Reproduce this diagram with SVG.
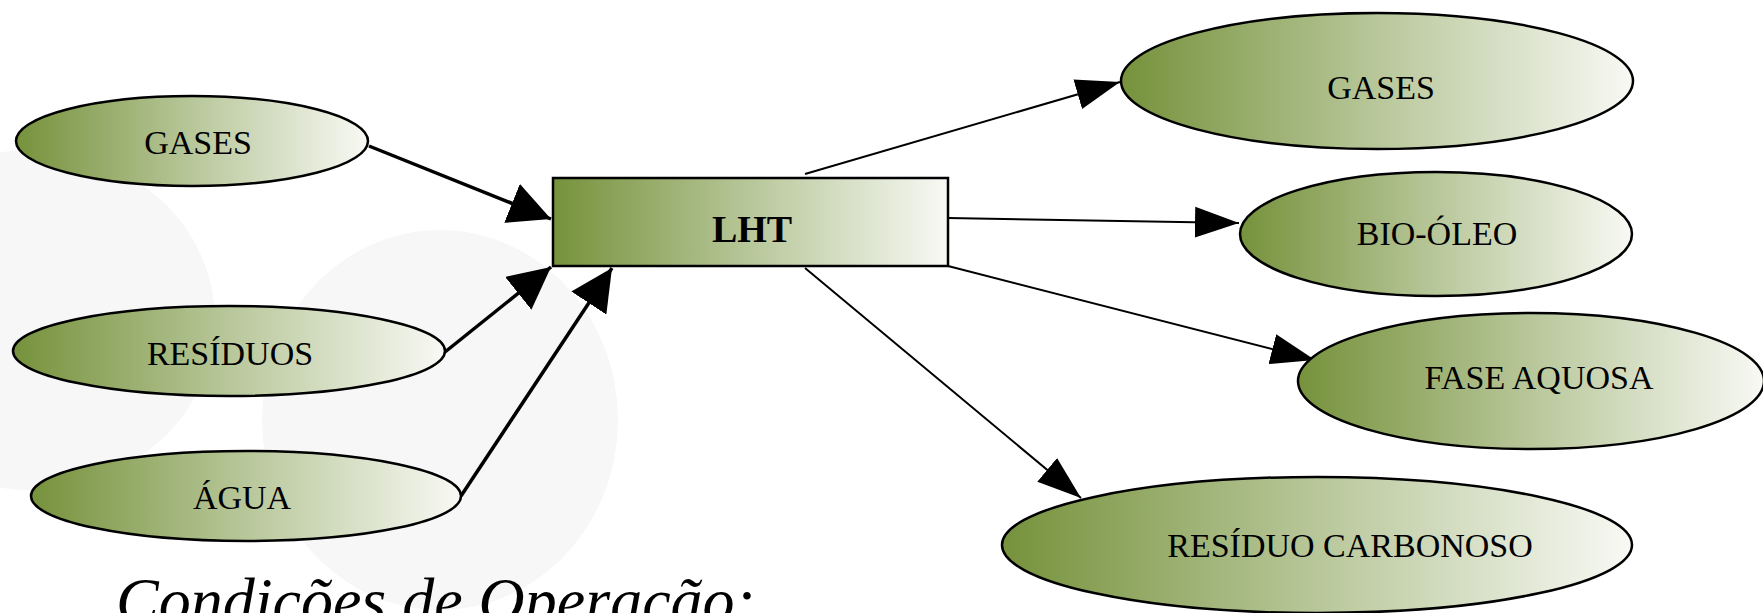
<svg xmlns="http://www.w3.org/2000/svg" width="1763" height="613" viewBox="0 0 1763 613">
<defs>
<linearGradient id="g" x1="0" y1="0" x2="1" y2="0">
<stop offset="0" stop-color="#76923c"/>
<stop offset="0.5" stop-color="#b8c79a"/>
<stop offset="1" stop-color="#f8f9f4"/>
</linearGradient>
<marker id="ahL" viewBox="0 0 10 10" refX="10" refY="5" markerWidth="12" markerHeight="12" orient="auto">
<path d="M0,0 L10,5 L0,10 z" fill="#000"/>
</marker>
<marker id="ahR" viewBox="0 0 10 10" refX="10" refY="5" markerWidth="22" markerHeight="22" orient="auto">
<path d="M0,1.5 L10,5 L0,8.5 z" fill="#000"/>
</marker>
<style>
.node{fill:url(#g);stroke:#000;stroke-width:2.5}
.lbl{font-family:"Liberation Serif","Times New Roman",serif;font-size:34px;fill:#000;text-anchor:middle;dominant-baseline:central}
.in{stroke:#000;stroke-width:3.5;fill:none;marker-end:url(#ahL)}
.out{stroke:#000;stroke-width:2;fill:none;marker-end:url(#ahR)}
.bg{fill:#f7f7f7}
</style>
</defs>
<rect width="1763" height="613" fill="#fff"/>
<g id="background">
<ellipse class="bg" cx="30" cy="320" rx="185" ry="170"/>
<ellipse class="bg" cx="440" cy="420" rx="178" ry="190"/>
</g>
<g id="connectors">
<line class="in" x1="369" y1="146" x2="551" y2="219"/>
<line class="in" x1="445" y1="352" x2="551" y2="267"/>
<line class="in" x1="461" y1="496" x2="612" y2="268"/>
<line class="out" x1="805" y1="174" x2="1120" y2="82"/>
<line class="out" x1="948" y1="218" x2="1239" y2="223"/>
<line class="out" x1="948" y1="266" x2="1315" y2="360"/>
<line class="out" x1="805" y1="268" x2="1081" y2="498"/>
</g>
<g id="n-gases-in">
<ellipse class="node" cx="192" cy="141" rx="176" ry="45"/>
<text class="lbl" x="198" y="142">GASES</text>
</g>
<g id="n-residuos">
<ellipse class="node" cx="229" cy="351" rx="216" ry="45"/>
<text class="lbl" x="230" y="353">RESÍDUOS</text>
</g>
<g id="n-agua">
<ellipse class="node" cx="246" cy="496" rx="215" ry="45"/>
<text class="lbl" x="242" y="497">ÁGUA</text>
</g>
<g id="n-lht">
<rect class="node" x="553" y="178" width="395" height="88"/>
<text class="lbl" x="752" y="229" style="font-weight:bold;font-size:38px">LHT</text>
</g>
<g id="n-gases-out">
<ellipse class="node" cx="1377" cy="81" rx="256" ry="68"/>
<text class="lbl" x="1381" y="87">GASES</text>
</g>
<g id="n-bio">
<ellipse class="node" cx="1436" cy="234" rx="196" ry="62"/>
<text class="lbl" x="1437" y="233">BIO-ÓLEO</text>
</g>
<g id="n-fase">
<ellipse class="node" cx="1531" cy="381" rx="233" ry="68"/>
<text class="lbl" x="1539" y="377">FASE AQUOSA</text>
</g>
<g id="n-residuo-c">
<ellipse class="node" cx="1317" cy="545" rx="315" ry="68"/>
<text class="lbl" x="1350" y="545">RESÍDUO CARBONOSO</text>
</g>
<text x="116" y="622" style="font-family:'Liberation Serif','Times New Roman',serif;font-style:italic;font-size:64px;fill:#000">Condições de Operação:</text>
</svg>
